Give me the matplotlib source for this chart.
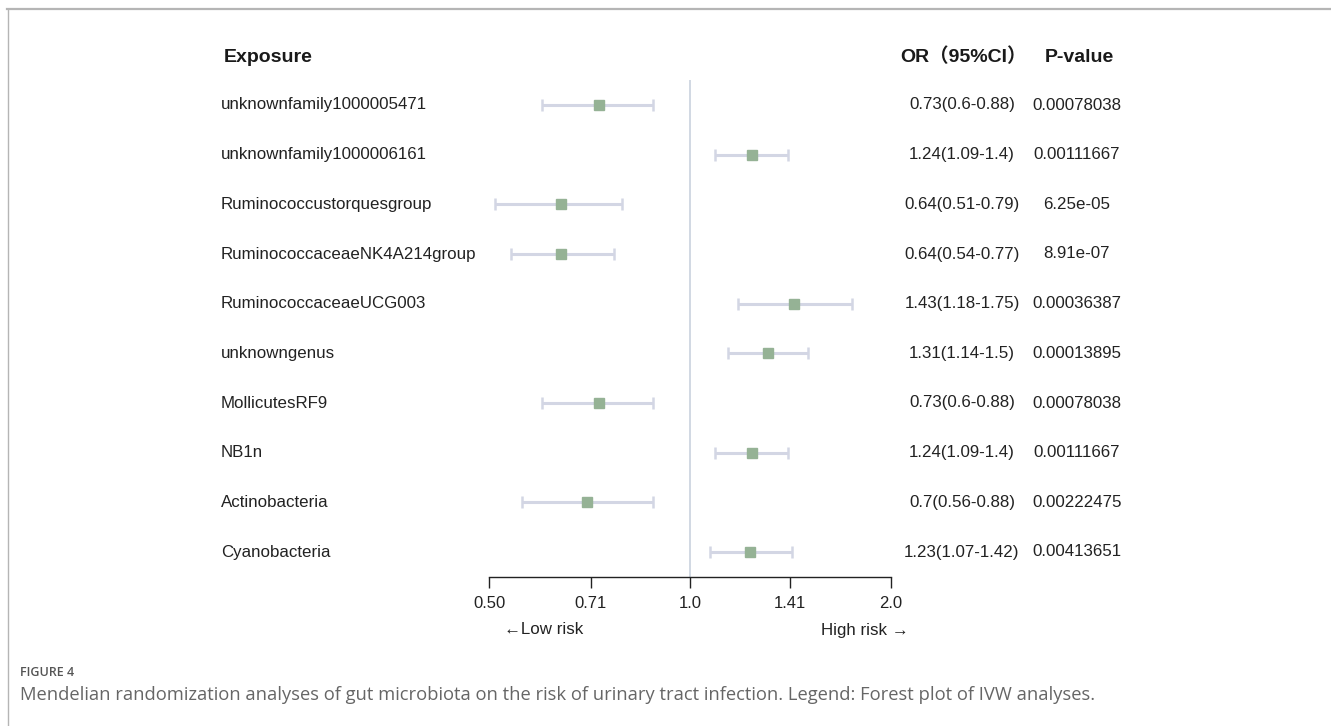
import matplotlib
matplotlib.use("Agg")
import matplotlib.pyplot as plt
from matplotlib.lines import Line2D
import numpy as np

exposures = ["unknownfamily1000005471", "unknownfamily1000006161", "Ruminococcustorquesgroup",
             "RuminococcaceaeNK4A214group", "RuminococcaceaeUCG003", "unknowngenus",
             "MollicutesRF9", "NB1n", "Actinobacteria", "Cyanobacteria"]
or_vals = [0.73, 1.24, 0.64, 0.64, 1.43, 1.31, 0.73, 1.24, 0.7, 1.23]
ci_low = [0.6, 1.09, 0.51, 0.54, 1.18, 1.14, 0.6, 1.09, 0.56, 1.07]
ci_high = [0.88, 1.4, 0.79, 0.77, 1.75, 1.5, 0.88, 1.4, 0.88, 1.42]
p_values = ["0.00078038", "0.00111667", "6.25e-05", "8.91e-07", "0.00036387",
            "0.00013895", "0.00078038", "0.00111667", "0.00222475", "0.00413651"]
x_ticks = [0.5, 0.71, 1.0, 1.41, 2.0]
x_tick_labels = ["0.50", "0.71", "1.0", "1.41", "2.0"]

W, H = 1331, 726
fig = plt.figure(figsize=(W / 100, H / 100), dpi=100)
fig.patch.set_facecolor("white")

def fx(px):
    return px / W

def fy(py):
    return 1 - py / H

# outer frame lines (top and left)
fig.add_artist(Line2D([fx(7), 1.0], [fy(8.5), fy(8.5)], color="#b5b5b5", lw=1.6))
fig.add_artist(Line2D([fx(7.5), fx(7.5)], [fy(8.5), 0.0], color="#b5b5b5", lw=1.0))

ax_left, ax_right = 489, 891
ax_top, ax_bottom = 80, 577
ax = fig.add_axes([fx(ax_left), fy(ax_bottom), (ax_right - ax_left) / W, (ax_bottom - ax_top) / H])
ax.set_xscale("log", base=2)
ax.set_xlim(0.5, 2.0)
n = len(exposures)
ax.set_ylim(-0.5, n - 0.5)
ypos = np.arange(n)[::-1]

ax.axvline(1.0, color="#c9d2de", lw=1.2, zorder=1)

or_arr = np.array(or_vals)
err = np.vstack([or_arr - np.array(ci_low), np.array(ci_high) - or_arr])
ax.errorbar(or_arr, ypos, xerr=err, fmt="none", ecolor="#d3d6e4", elinewidth=2.2,
            capsize=4.5, capthick=1.8, zorder=2)
ax.plot(or_arr, ypos, linestyle="none", marker="s", markersize=7.2,
        color="#95b295", markeredgecolor="#95b295", zorder=3)

for s in ["top", "left", "right"]:
    ax.spines[s].set_visible(False)
ax.spines["bottom"].set_color("#222222")
ax.spines["bottom"].set_linewidth(1.0)
ax.set_yticks([])
ax.set_xticks(x_ticks)
ax.set_xticklabels(x_tick_labels)
ax.xaxis.set_minor_locator(matplotlib.ticker.NullLocator())
ax.tick_params(axis="x", direction="out", length=8, width=1.0, color="#222222",
               labelsize=12, pad=6, labelcolor="#222222")
for lab in ax.get_xticklabels():
    lab.set_fontfamily("Liberation Sans")

txt = dict(fontfamily=["Liberation Sans", "DejaVu Sans"], fontsize=12.2, color="#222222")
# row labels and values
row_px = np.linspace(105, 552, n)
for i in range(n):
    y = fy(row_px[i])
    fig.text(fx(221), y, exposures[i], ha="left", va="center", **txt)
    fig.text(fx(962), y, f"{or_vals[i]}({ci_low[i]}-{ci_high[i]})", ha="center", va="center", **txt)
    fig.text(fx(1077), y, p_values[i], ha="center", va="center", **txt)

hdr = dict(fontfamily=["Liberation Sans", "Noto Sans CJK SC"], fontsize=14, color="#1a1a1a",
           fontweight="bold")
fig.text(fx(224), fy(57), "Exposure", ha="left", va="center", **hdr)
fig.text(fx(900), fy(57), "OR（95%CI）", ha="left", va="center", **hdr)
fig.text(fx(1045), fy(57), "P-value", ha="left", va="center", **hdr)

fig.text(fx(544), fy(630), "←Low risk", ha="center", va="center", **txt)
fig.text(fx(865), fy(630), "High risk →", ha="center", va="center", **txt)

# caption
fig.text(fx(20), fy(672), "FIGURE 4", ha="left", va="center", fontfamily="Open Sans",
         fontsize=9, fontweight="semibold", color="#555555")
fig.text(fx(20), fy(695), "Mendelian randomization analyses of gut microbiota on the risk of urinary tract infection. Legend: Forest plot of IVW analyses.",
         ha="left", va="center", fontfamily="Open Sans", fontsize=13.2, color="#666666")

fig.savefig("out.png", dpi=100, facecolor="white")
